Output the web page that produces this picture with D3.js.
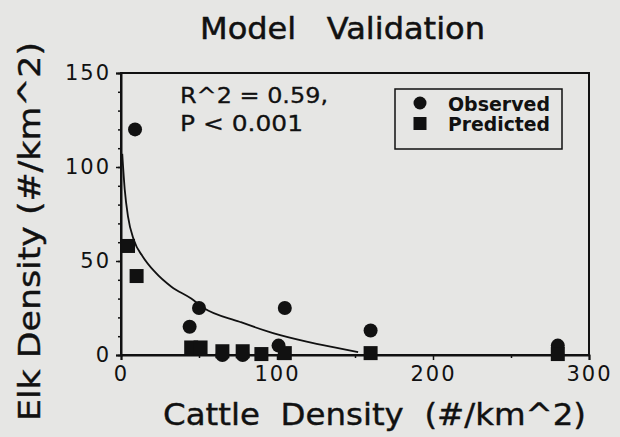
<!DOCTYPE html>
<html>
<head>
<meta charset="utf-8">
<script src="https://cdn.jsdelivr.net/npm/d3@7"></script>
<style>
  html, body { margin: 0; padding: 0; background: #e6e6e4; }
  svg { display: block; }
  text { font-family: "DejaVu Sans", Verdana, sans-serif; fill: #111; white-space: pre; }
</style>
</head>
<body>
<svg id="chart" width="620" height="437"></svg>
<script>
// Observed elk density at each site
const obsX = [9, 44, 50, 65, 78, 101, 105, 160, 280];
const obsY = [120, 15, 25, 0, 0, 5, 25, 13, 5];
// Model-predicted elk density at each site
const predX = [4.5, 10, 45, 51, 65, 78, 90, 105, 160, 280];
const predY = [58, 42, 4, 4, 2, 2, 0.5, 1, 1, 0.5];
// Fitted curve
const fitX = [0.8, 2.4, 4.5, 8.3, 14, 21.6, 32.3, 45, 53, 76, 98, 119, 140, 152];
const fitY = [107, 88, 73.6, 61, 52.3, 44.3, 36.3, 30, 25, 17.7, 11.5, 7.1, 3.5, 1.5];
// Axis ticks
const xTicks = [0, 100, 200, 300];
const yTicks = [0, 50, 100, 150];
const yMinor = d3.range(0, 151, 10);
const xMinor = [50, 150, 250];

const svg = d3.select("#chart");
const x = d3.scaleLinear().domain([0, 300]).range([121, 589]);
const y = d3.scaleLinear().domain([0, 150]).range([355, 73]);
const ink = "#111";

// frame
svg.append("rect")
  .attr("x", x(0)).attr("y", y(150))
  .attr("width", x(300) - x(0)).attr("height", y(0) - y(150))
  .attr("fill", "none").attr("stroke", ink).attr("stroke-width", 2);

// y axis
svg.append("g").attr("transform", `translate(${x(0)},0)`)
  .call(d3.axisLeft(y).tickValues(yTicks).tickSize(5).tickPadding(5).tickFormat(d3.format("d")));
svg.append("g").attr("transform", `translate(${x(0)},0)`)
  .call(d3.axisLeft(y).tickValues(yMinor).tickSize(3).tickFormat(""))
  .call(g => g.select(".domain").remove());

// x axis
svg.append("g").attr("transform", `translate(0,${y(0)})`)
  .call(d3.axisBottom(x).tickValues(xTicks).tickSize(5).tickPadding(6).tickFormat(d3.format("d")));
svg.append("g").attr("transform", `translate(0,${y(0)})`)
  .call(d3.axisBottom(x).tickValues(xMinor).tickSize(3).tickFormat(""))
  .call(g => g.select(".domain").remove());

svg.selectAll(".domain").attr("stroke", ink).attr("stroke-width", 2);
svg.selectAll(".tick line").attr("stroke", ink).attr("stroke-width", 1.5);
svg.selectAll(".tick text").attr("font-size", 21).attr("fill", ink)
  .attr("font-family", "DejaVu Sans, sans-serif").attr("letter-spacing", 2);

// fitted curve
svg.append("path")
  .datum(fitX.map((d, i) => [d, fitY[i]]))
  .attr("fill", "none").attr("stroke", ink).attr("stroke-width", 1.8)
  .attr("d", d3.line().x(d => x(d[0])).y(d => y(d[1])).curve(d3.curveMonotoneX));

// observed points
svg.append("g").selectAll("circle")
  .data(obsX.map((d, i) => [d, obsY[i]]))
  .join("circle")
  .attr("cx", d => x(d[0])).attr("cy", d => y(d[1])).attr("r", 7).attr("fill", ink);

// predicted points
const sq = 14;
svg.append("g").selectAll("rect")
  .data(predX.map((d, i) => [d, predY[i]]))
  .join("rect")
  .attr("x", d => x(d[0]) - sq / 2).attr("y", d => y(d[1]) - sq / 2)
  .attr("width", sq).attr("height", sq).attr("fill", ink);

// statistics
svg.append("text").attr("x", 180).attr("y", 103).attr("font-size", 22)
  .attr("stroke", ink).attr("stroke-width", 0.3)
  .attr("textLength", 148).attr("lengthAdjust", "spacingAndGlyphs").text("R^2 = 0.59,");
svg.append("text").attr("x", 180).attr("y", 131).attr("font-size", 22)
  .attr("stroke", ink).attr("stroke-width", 0.3)
  .attr("textLength", 123).attr("lengthAdjust", "spacingAndGlyphs").text("P < 0.001");

// legend
const lg = svg.append("g");
lg.append("rect").attr("x", 395).attr("y", 89).attr("width", 167).attr("height", 60)
  .attr("fill", "none").attr("stroke", ink).attr("stroke-width", 1.5);
lg.append("circle").attr("cx", 420).attr("cy", 103).attr("r", 6.5).attr("fill", ink);
lg.append("rect").attr("x", 413.5).attr("y", 117).attr("width", 13).attr("height", 13).attr("fill", ink);
lg.append("text").attr("x", 448).attr("y", 111).attr("font-size", 19).attr("font-weight", "bold")
  .attr("textLength", 102).attr("lengthAdjust", "spacingAndGlyphs").text("Observed");
lg.append("text").attr("x", 448).attr("y", 131).attr("font-size", 19).attr("font-weight", "bold")
  .attr("textLength", 102).attr("lengthAdjust", "spacingAndGlyphs").text("Predicted");

// titles
svg.append("text").attr("x", 200).attr("y", 39).attr("font-size", 30)
  .attr("stroke", ink).attr("stroke-width", 0.5)
  .attr("textLength", 285).attr("lengthAdjust", "spacingAndGlyphs").text("Model   Validation");
svg.append("text").attr("x", 163).attr("y", 425).attr("font-size", 31)
  .attr("stroke", ink).attr("stroke-width", 0.4)
  .attr("textLength", 423).attr("lengthAdjust", "spacingAndGlyphs").text("Cattle  Density  (#/km^2)");
svg.append("text").attr("transform", "translate(40,421) rotate(-90)").attr("font-size", 31)
  .attr("stroke", ink).attr("stroke-width", 0.4)
  .attr("textLength", 379).attr("lengthAdjust", "spacingAndGlyphs").text("Elk Density (#/km^2)");
</script>
</body>
</html>
